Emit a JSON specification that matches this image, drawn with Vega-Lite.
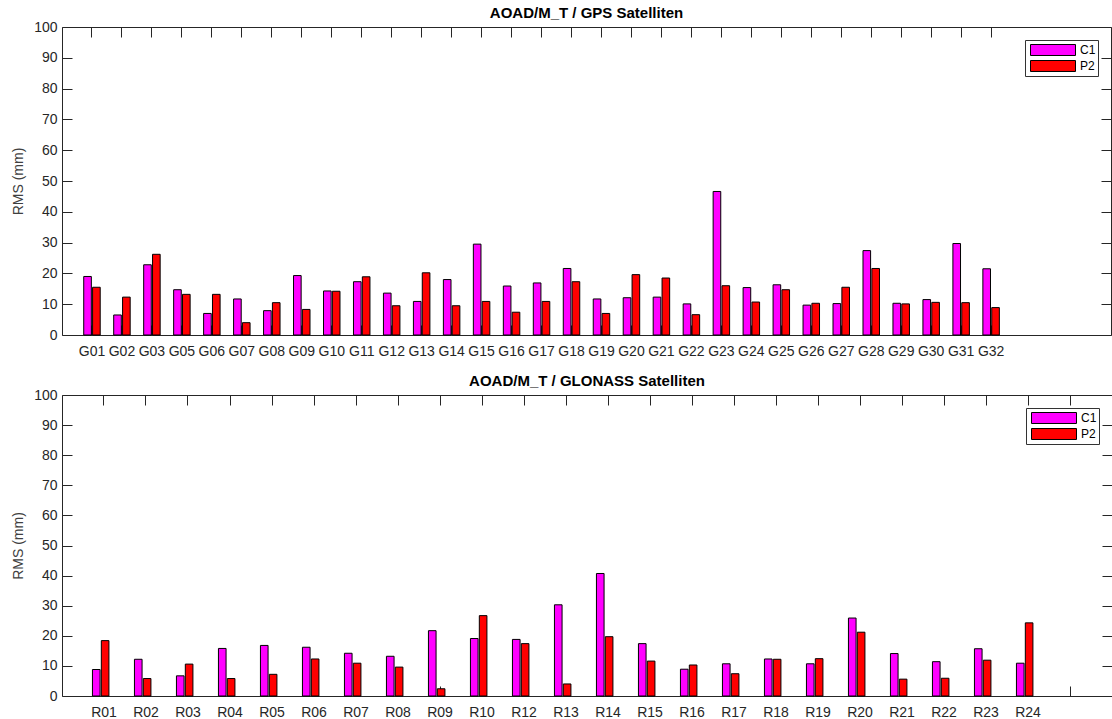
{
  "$schema": "https://vega.github.io/schema/vega-lite/v6.json",
  "padding": {"left": 11, "top": 6, "right": 0, "bottom": 0},
  "config": {
    "view": {"stroke": null},
    "font": "Liberation Sans",
    "axis": {"labelFont": "Liberation Sans", "labelFontSize": 14, "labelColor": "#262626", "domainColor": "#262626", "tickColor": "#262626", "grid": false, "titleFont": "Liberation Sans", "titleFontWeight": "normal", "titleFontSize": 14, "titleColor": "#404040"},
    "title": {"fontSize": 15, "font": "Liberation Sans", "fontWeight": "bold", "color": "black", "offset": -1},
    "legend": {"orient": "top-right", "offset": 13, "strokeColor": "#333", "fillColor": "white", "padding": 2, "symbolType": "M-1,-0.244H1V0.244H-1Z", "symbolSize": 2025, "symbolStrokeColor": "black", "symbolStrokeWidth": 1, "symbolOpacity": 1, "symbolOffset": 3, "labelFontSize": 12, "labelColor": "black", "labelOffset": 4, "rowPadding": 0, "clipHeight": 16},
    "concat": {"spacing": 16}
  },
  "datasets": {
    "gps": [
      {"sat": "G01", "signal": "C1", "rms": 19.0}, {"sat": "G01", "signal": "P2", "rms": 15.5},
      {"sat": "G02", "signal": "C1", "rms": 6.5}, {"sat": "G02", "signal": "P2", "rms": 12.3},
      {"sat": "G03", "signal": "C1", "rms": 22.8}, {"sat": "G03", "signal": "P2", "rms": 26.2},
      {"sat": "G05", "signal": "C1", "rms": 14.7}, {"sat": "G05", "signal": "P2", "rms": 13.2},
      {"sat": "G06", "signal": "C1", "rms": 7.0}, {"sat": "G06", "signal": "P2", "rms": 13.2},
      {"sat": "G07", "signal": "C1", "rms": 11.7}, {"sat": "G07", "signal": "P2", "rms": 4.0},
      {"sat": "G08", "signal": "C1", "rms": 7.9}, {"sat": "G08", "signal": "P2", "rms": 10.5},
      {"sat": "G09", "signal": "C1", "rms": 19.3}, {"sat": "G09", "signal": "P2", "rms": 8.3},
      {"sat": "G10", "signal": "C1", "rms": 14.3}, {"sat": "G10", "signal": "P2", "rms": 14.2},
      {"sat": "G11", "signal": "C1", "rms": 17.3}, {"sat": "G11", "signal": "P2", "rms": 18.9},
      {"sat": "G12", "signal": "C1", "rms": 13.6}, {"sat": "G12", "signal": "P2", "rms": 9.5},
      {"sat": "G13", "signal": "C1", "rms": 10.9}, {"sat": "G13", "signal": "P2", "rms": 20.2},
      {"sat": "G14", "signal": "C1", "rms": 18.0}, {"sat": "G14", "signal": "P2", "rms": 9.5},
      {"sat": "G15", "signal": "C1", "rms": 29.5}, {"sat": "G15", "signal": "P2", "rms": 10.9},
      {"sat": "G16", "signal": "C1", "rms": 15.9}, {"sat": "G16", "signal": "P2", "rms": 7.4},
      {"sat": "G17", "signal": "C1", "rms": 16.9}, {"sat": "G17", "signal": "P2", "rms": 10.9},
      {"sat": "G18", "signal": "C1", "rms": 21.6}, {"sat": "G18", "signal": "P2", "rms": 17.3},
      {"sat": "G19", "signal": "C1", "rms": 11.7}, {"sat": "G19", "signal": "P2", "rms": 7.0},
      {"sat": "G20", "signal": "C1", "rms": 12.1}, {"sat": "G20", "signal": "P2", "rms": 19.6},
      {"sat": "G21", "signal": "C1", "rms": 12.3}, {"sat": "G21", "signal": "P2", "rms": 18.5},
      {"sat": "G22", "signal": "C1", "rms": 10.1}, {"sat": "G22", "signal": "P2", "rms": 6.6},
      {"sat": "G23", "signal": "C1", "rms": 46.6}, {"sat": "G23", "signal": "P2", "rms": 16.0},
      {"sat": "G24", "signal": "C1", "rms": 15.4}, {"sat": "G24", "signal": "P2", "rms": 10.7},
      {"sat": "G25", "signal": "C1", "rms": 16.3}, {"sat": "G25", "signal": "P2", "rms": 14.7},
      {"sat": "G26", "signal": "C1", "rms": 9.7}, {"sat": "G26", "signal": "P2", "rms": 10.3},
      {"sat": "G27", "signal": "C1", "rms": 10.2}, {"sat": "G27", "signal": "P2", "rms": 15.5},
      {"sat": "G28", "signal": "C1", "rms": 27.4}, {"sat": "G28", "signal": "P2", "rms": 21.6},
      {"sat": "G29", "signal": "C1", "rms": 10.3}, {"sat": "G29", "signal": "P2", "rms": 10.1},
      {"sat": "G30", "signal": "C1", "rms": 11.5}, {"sat": "G30", "signal": "P2", "rms": 10.6},
      {"sat": "G31", "signal": "C1", "rms": 29.7}, {"sat": "G31", "signal": "P2", "rms": 10.5},
      {"sat": "G32", "signal": "C1", "rms": 21.5}, {"sat": "G32", "signal": "P2", "rms": 8.9}
    ],
    "glo": [
      {"sat": "R01", "signal": "C1", "rms": 8.8}, {"sat": "R01", "signal": "P2", "rms": 18.4},
      {"sat": "R02", "signal": "C1", "rms": 12.2}, {"sat": "R02", "signal": "P2", "rms": 5.8},
      {"sat": "R03", "signal": "C1", "rms": 6.7}, {"sat": "R03", "signal": "P2", "rms": 10.6},
      {"sat": "R04", "signal": "C1", "rms": 15.8}, {"sat": "R04", "signal": "P2", "rms": 5.8},
      {"sat": "R05", "signal": "C1", "rms": 16.8}, {"sat": "R05", "signal": "P2", "rms": 7.2},
      {"sat": "R06", "signal": "C1", "rms": 16.2}, {"sat": "R06", "signal": "P2", "rms": 12.3},
      {"sat": "R07", "signal": "C1", "rms": 14.2}, {"sat": "R07", "signal": "P2", "rms": 10.9},
      {"sat": "R08", "signal": "C1", "rms": 13.2}, {"sat": "R08", "signal": "P2", "rms": 9.6},
      {"sat": "R09", "signal": "C1", "rms": 21.7}, {"sat": "R09", "signal": "P2", "rms": 2.4},
      {"sat": "R10", "signal": "C1", "rms": 19.1}, {"sat": "R10", "signal": "P2", "rms": 26.7},
      {"sat": "R12", "signal": "C1", "rms": 18.8}, {"sat": "R12", "signal": "P2", "rms": 17.4},
      {"sat": "R13", "signal": "C1", "rms": 30.3}, {"sat": "R13", "signal": "P2", "rms": 4.0},
      {"sat": "R14", "signal": "C1", "rms": 40.7}, {"sat": "R14", "signal": "P2", "rms": 19.7},
      {"sat": "R15", "signal": "C1", "rms": 17.4}, {"sat": "R15", "signal": "P2", "rms": 11.6},
      {"sat": "R16", "signal": "C1", "rms": 8.9}, {"sat": "R16", "signal": "P2", "rms": 10.3},
      {"sat": "R17", "signal": "C1", "rms": 10.7}, {"sat": "R17", "signal": "P2", "rms": 7.4},
      {"sat": "R18", "signal": "C1", "rms": 12.3}, {"sat": "R18", "signal": "P2", "rms": 12.2},
      {"sat": "R19", "signal": "C1", "rms": 10.7}, {"sat": "R19", "signal": "P2", "rms": 12.4},
      {"sat": "R20", "signal": "C1", "rms": 25.9}, {"sat": "R20", "signal": "P2", "rms": 21.2},
      {"sat": "R21", "signal": "C1", "rms": 14.1}, {"sat": "R21", "signal": "P2", "rms": 5.6},
      {"sat": "R22", "signal": "C1", "rms": 11.4}, {"sat": "R22", "signal": "P2", "rms": 5.9},
      {"sat": "R23", "signal": "C1", "rms": 15.7}, {"sat": "R23", "signal": "P2", "rms": 11.9},
      {"sat": "R24", "signal": "C1", "rms": 10.9}, {"sat": "R24", "signal": "P2", "rms": 24.3}
    ]
  },
  "resolve": {"scale": {"color": "independent", "x": "independent", "y": "independent"}, "legend": {"color": "independent"}},
  "vconcat": [
    {
      "title": "AOAD/M_T / GPS Satelliten",
      "width": 1049,
      "height": 308,
      "data": {"name": "gps"},
      "resolve": {"axis": {"x": "independent", "y": "independent"}},
      "layer": [
        {
          "mark": {"type": "bar", "stroke": "black", "strokeWidth": 1},
          "encoding": {
            "x": {"field": "sat", "type": "nominal", "scale": {"domain": ["G01","G02","G03","G05","G06","G07","G08","G09","G10","G11","G12","G13","G14","G15","G16","G17","G18","G19","G20","G21","G22","G23","G24","G25","G26","G27","G28","G29","G30","G31","G32"," ","  ","   "], "paddingInner": 0.45, "paddingOuter": 0.725, "align": 0.5}, "axis": {"title": null, "labelAngle": 0, "tickSize": -10, "labelPadding": 19, "values": ["G01","G02","G03","G05","G06","G07","G08","G09","G10","G11","G12","G13","G14","G15","G16","G17","G18","G19","G20","G21","G22","G23","G24","G25","G26","G27","G28","G29","G30","G31","G32"]}},
            "xOffset": {"field": "signal", "type": "nominal", "scale": {"paddingInner": 0.14}},
            "y": {"field": "rms", "type": "quantitative", "scale": {"domain": [0, 100], "nice": false}, "axis": {"title": "RMS (mm)", "values": [0,10,20,30,40,50,60,70,80,90,100], "tickSize": -10, "labelPadding": 15, "titlePadding": 8}},
            "color": {"field": "signal", "type": "nominal", "scale": {"domain": ["C1", "P2"], "range": ["#ff00ff", "#ff0000"]}, "legend": {"title": null}}
          }
        },
        {
          "mark": {"type": "bar", "opacity": 0},
          "encoding": {
            "x": {"field": "sat", "type": "nominal", "axis": {"orient": "top", "title": null, "labels": false, "tickSize": -10, "values": ["G01","G02","G03","G05","G06","G07","G08","G09","G10","G11","G12","G13","G14","G15","G16","G17","G18","G19","G20","G21","G22","G23","G24","G25","G26","G27","G28","G29","G30","G31","G32"]}},
            "xOffset": {"field": "signal", "type": "nominal"},
            "y": {"field": "rms", "type": "quantitative", "axis": {"orient": "right", "title": null, "labels": false, "tickSize": -10, "values": [0,10,20,30,40,50,60,70,80,90,100]}}
          }
        }
      ]
    },
    {
      "title": "AOAD/M_T / GLONASS Satelliten",
      "width": 1050,
      "height": 301,
      "data": {"name": "glo"},
      "resolve": {"axis": {"x": "independent", "y": "independent"}},
      "layer": [
        {
          "mark": {"type": "bar", "stroke": "black", "strokeWidth": 1},
          "encoding": {
            "x": {"field": "sat", "type": "nominal", "scale": {"domain": ["R01","R02","R03","R04","R05","R06","R07","R08","R09","R10","R12","R13","R14","R15","R16","R17","R18","R19","R20","R21","R22","R23","R24"," "], "paddingInner": 0.45, "paddingOuter": 0.725, "align": 0.5}, "axis": {"title": null, "labelAngle": 0, "tickSize": -10, "labelPadding": 19}},
            "xOffset": {"field": "signal", "type": "nominal", "scale": {"paddingInner": 0.14}},
            "y": {"field": "rms", "type": "quantitative", "scale": {"domain": [0, 100], "nice": false}, "axis": {"title": "RMS (mm)", "values": [0,10,20,30,40,50,60,70,80,90,100], "tickSize": -10, "labelPadding": 15, "titlePadding": 8}},
            "color": {"field": "signal", "type": "nominal", "scale": {"domain": ["C1", "P2"], "range": ["#ff00ff", "#ff0000"]}, "legend": {"title": null}}
          }
        },
        {
          "mark": {"type": "bar", "opacity": 0},
          "encoding": {
            "x": {"field": "sat", "type": "nominal", "axis": {"orient": "top", "title": null, "labels": false, "tickSize": -10}},
            "xOffset": {"field": "signal", "type": "nominal"},
            "y": {"field": "rms", "type": "quantitative", "axis": {"orient": "right", "title": null, "labels": false, "tickSize": -10, "values": [0,10,20,30,40,50,60,70,80,90,100]}}
          }
        }
      ]
    }
  ]
}
